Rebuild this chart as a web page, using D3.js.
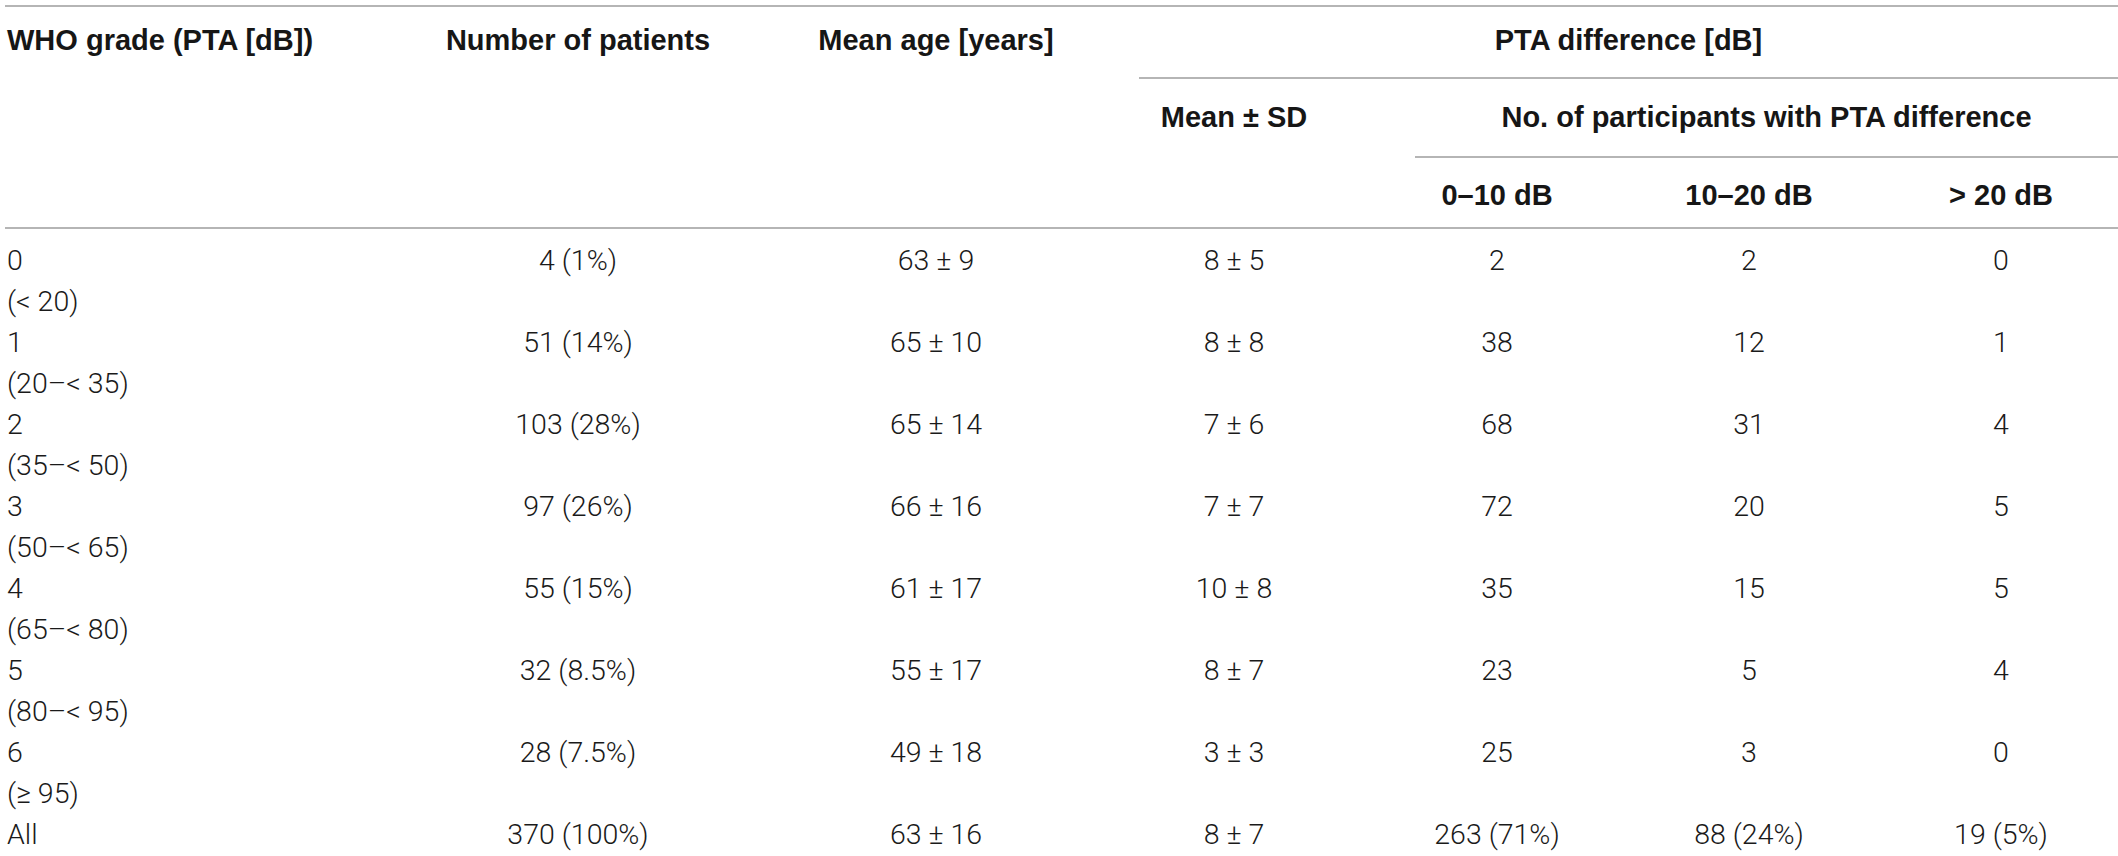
<!DOCTYPE html>
<html>
<head>
<meta charset="utf-8">
<script src="https://cdn.jsdelivr.net/npm/d3@7"></script>
<style>
  html, body { margin: 0; padding: 0; background: #fff; }
  svg { display: block; }
  .hd { font-family: "Liberation Sans", Arial, sans-serif; font-weight: bold; font-size: 29px; fill: #161616; }
  .bd { font-family: Roboto, "Liberation Sans", sans-serif; font-weight: 300; font-size: 28.5px; fill: #1a1a1a; }
  .rule { stroke: #9c9c9c; stroke-width: 1.5; }
</style>
</head>
<body>
<script>
// table values
var grades = ['0', '1', '2', '3', '4', '5', '6', 'All'];
var ranges = ['(< 20)', '(20\u2013< 35)', '(35\u2013< 50)', '(50\u2013< 65)', '(65\u2013< 80)', '(80\u2013< 95)', '(\u2265 95)', ''];
var patients = ['4 (1%)', '51 (14%)', '103 (28%)', '97 (26%)', '55 (15%)', '32 (8.5%)', '28 (7.5%)', '370 (100%)'];
var meanAge = ['63 \u00b1 9', '65 \u00b1 10', '65 \u00b1 14', '66 \u00b1 16', '61 \u00b1 17', '55 \u00b1 17', '49 \u00b1 18', '63 \u00b1 16'];
var meanSD = ['8 \u00b1 5', '8 \u00b1 8', '7 \u00b1 6', '7 \u00b1 7', '10 \u00b1 8', '8 \u00b1 7', '3 \u00b1 3', '8 \u00b1 7'];
var diff0to10 = ['2', '38', '68', '72', '35', '23', '25', '263 (71%)'];
var diff10to20 = ['2', '12', '31', '20', '15', '5', '3', '88 (24%)'];
var diffOver20 = ['0', '1', '4', '5', '5', '4', '0', '19 (5%)'];

var columns = ['grade', 'patients', 'age', 'sd', 'd1', 'd2', 'd3'];
var colHeaders = ['WHO grade (PTA [dB])', 'Number of patients', 'Mean age [years]', 'Mean \u00b1 SD', '0\u201310 dB', '10\u201320 dB', '> 20 dB'];
var groupHeader = 'PTA difference [dB]';
var subGroupHeader = 'No. of participants with PTA difference';

var W = 2118, H = 856;
var svg = d3.select('body').append('svg').attr('width', W).attr('height', H);

// column centres (first column is left aligned)
var x = d3.scaleOrdinal()
  .domain(columns)
  .range([7, 578, 936, 1234, 1497, 1749, 2001]);

// row baselines
var y = d3.scaleLinear().domain([0, 1]).range([270, 352]);
var subLine = 41;

// header rules
var rules = [
  {y: 6, x1: 5, x2: W},
  {y: 78, x1: 1139, x2: W},
  {y: 157, x1: 1415, x2: W},
  {y: 228, x1: 5, x2: W}
];
svg.selectAll('line.rule')
  .data(rules)
  .enter().append('line')
  .attr('class', 'rule')
  .attr('x1', d => d.x1).attr('x2', d => d.x2)
  .attr('y1', d => d.y).attr('y2', d => d.y);

// header texts
var hdr = [
  {t: colHeaders[0], x: x('grade'), y: 50, a: 'start'},
  {t: colHeaders[1], x: x('patients'), y: 50, a: 'middle'},
  {t: colHeaders[2], x: x('age'), y: 50, a: 'middle'},
  {t: groupHeader, x: (1139 + W) / 2, y: 50, a: 'middle'},
  {t: colHeaders[3], x: x('sd'), y: 127, a: 'middle'},
  {t: subGroupHeader, x: (1415 + W) / 2, y: 127, a: 'middle'},
  {t: colHeaders[4], x: x('d1'), y: 205, a: 'middle'},
  {t: colHeaders[5], x: x('d2'), y: 205, a: 'middle'},
  {t: colHeaders[6], x: x('d3'), y: 205, a: 'middle'}
];
svg.selectAll('text.hd')
  .data(hdr)
  .enter().append('text')
  .attr('class', 'hd')
  .attr('x', d => d.x).attr('y', d => d.y)
  .attr('text-anchor', d => d.a)
  .text(d => d.t);

// body rows
var rows = grades.map((g, i) => ({
  i: i,
  grade: g, range: ranges[i], patients: patients[i], age: meanAge[i],
  sd: meanSD[i], d1: diff0to10[i], d2: diff10to20[i], d3: diffOver20[i]
}));

var row = svg.selectAll('g.row')
  .data(rows)
  .enter().append('g')
  .attr('class', 'row')
  .attr('transform', d => 'translate(0,' + y(d.i) + ')');

row.append('text')
  .attr('class', 'bd')
  .attr('x', x('grade'))
  .text(d => d.grade);

row.filter(d => d.range)
  .append('text')
  .attr('class', 'bd')
  .attr('x', x('grade'))
  .attr('y', subLine)
  .text(d => d.range);

columns.slice(1).forEach(function(c) {
  row.append('text')
    .attr('class', 'bd')
    .attr('x', x(c))
    .attr('text-anchor', 'middle')
    .text(d => d[c]);
});
</script>
</body>
</html>
